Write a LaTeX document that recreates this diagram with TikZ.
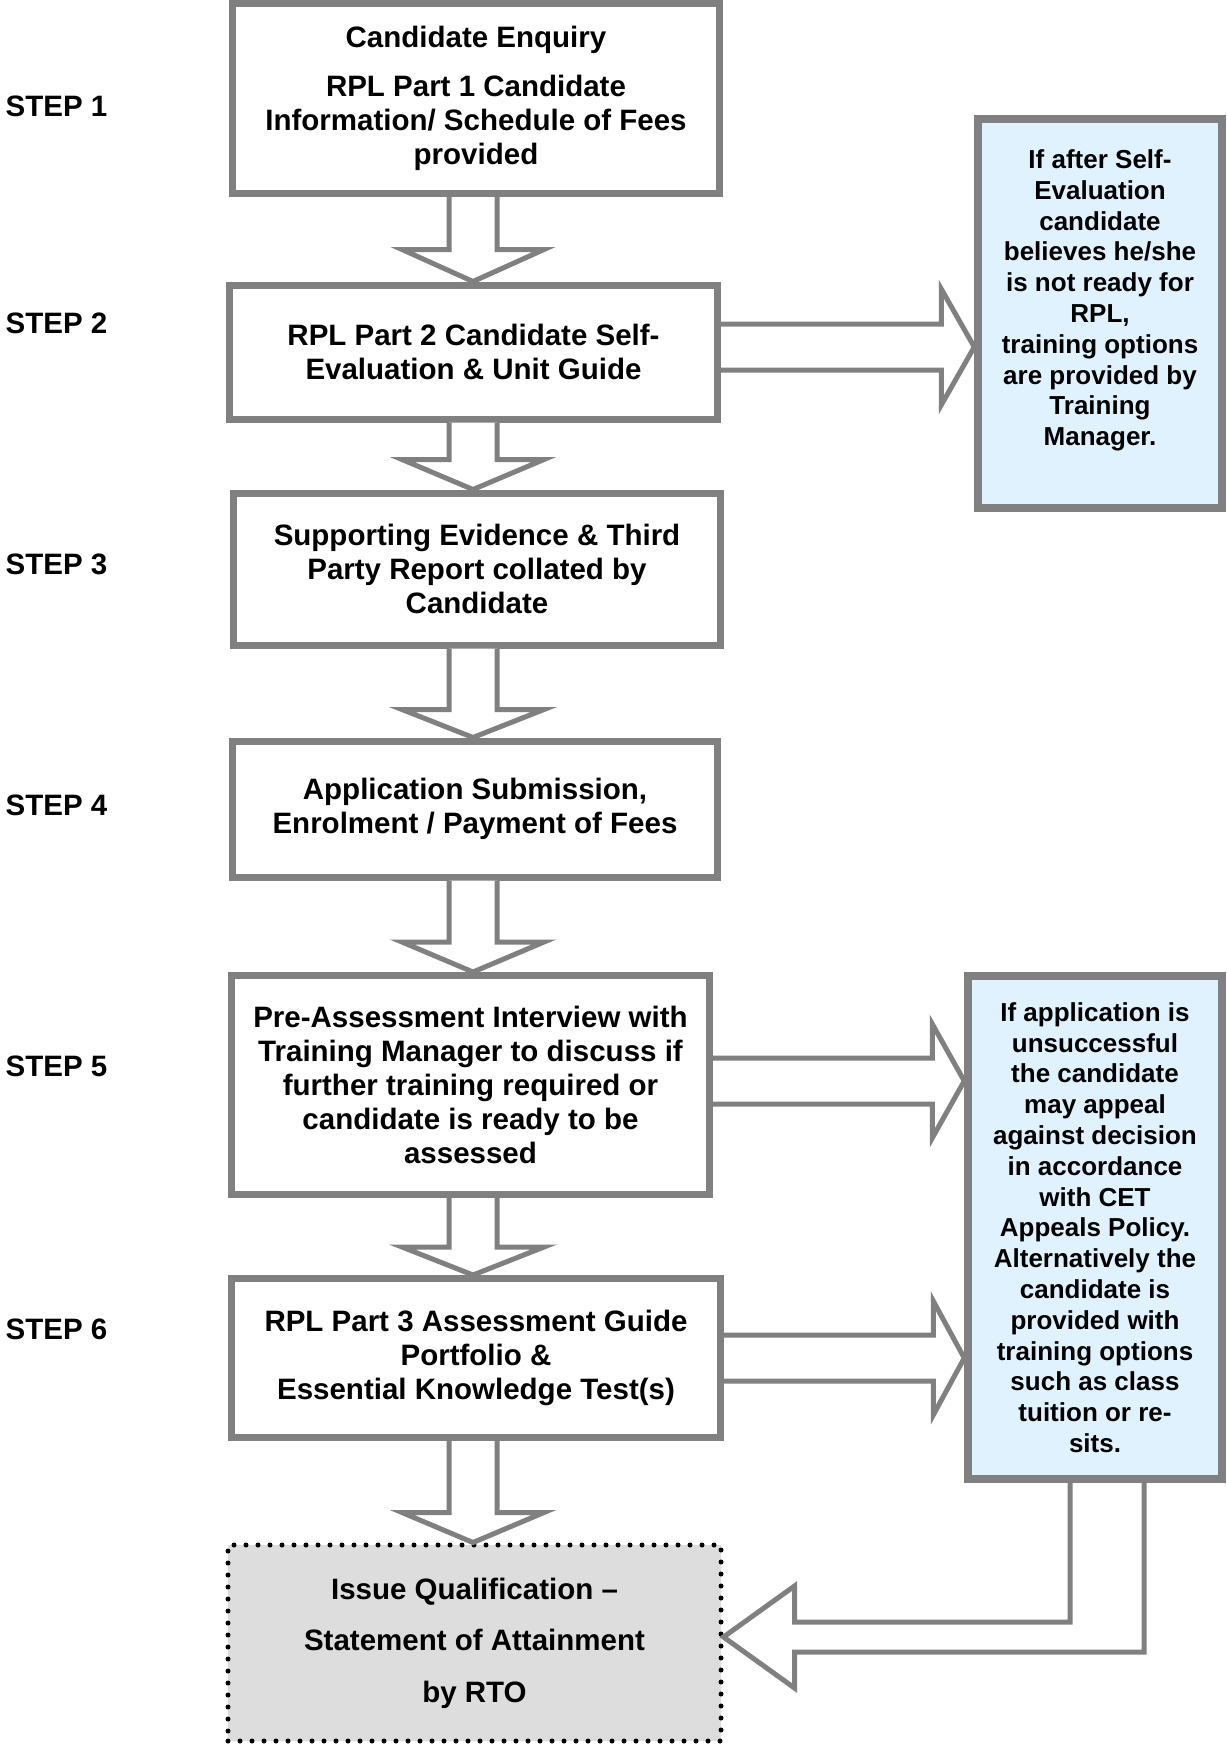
\documentclass[tikz,border=0pt]{standalone}
\usepackage{fontspec}
\setmainfont{Liberation Sans}
\usetikzlibrary{calc}
\definecolor{boxgray}{RGB}{128,128,128}
\definecolor{notefill}{RGB}{225,242,255}
\definecolor{issuefill}{RGB}{221,221,221}

\begin{document}
\begin{tikzpicture}[x=1pt,y=1pt,yscale=-1,xscale=1,
  stepbox/.style={draw=boxgray,line width=7pt,fill=white,inner sep=0pt,align=center,font=\fontsize{29.5}{34}\selectfont\bfseries},
  notebox/.style={draw=boxgray,line width=8pt,fill=notefill,inner sep=0pt,align=center,font=\fontsize{26}{30.8}\selectfont\bfseries},
  issuebox/.style={draw=black,line width=5pt,dash pattern=on 0pt off 12pt,line cap=round,fill=issuefill,inner sep=0pt,align=center,font=\fontsize{29.5}{51.5}\selectfont\bfseries},
  steplabel/.style={anchor=west,inner sep=0pt,font=\fontsize{29.5}{34}\selectfont\bfseries},
  blockarrow/.style={draw=boxgray,line width=5pt,fill=white,line join=miter}]
%set diagram size to 1226 x 1745
\useasboundingbox (0,0) rectangle (1226,1745);
\coordinate (col) at (473,0);

%Shape: Rectangle [b1]
\draw (476,98.5) node [stepbox,minimum width=487pt,minimum height=190pt] (b1) {Candidate Enquiry\\[15pt]RPL Part 1 Candidate\\Information/ Schedule of Fees\\provided};
%Shape: Rectangle [b2]
\draw (473.5,352) node [stepbox,minimum width=488pt,minimum height=134pt] (b2) {RPL Part 2 Candidate Self-\\Evaluation \& Unit Guide};
%Shape: Rectangle [b3]
\draw (477,569) node [stepbox,minimum width=487pt,minimum height=152pt] (b3) {Supporting Evidence \& Third\\Party Report collated by\\Candidate};
%Shape: Rectangle [b4]
\draw (475,809) node [stepbox,minimum width=485pt,minimum height=136pt] (b4) {Application Submission,\\Enrolment / Payment of Fees};
%Shape: Rectangle [b5]
\draw (470.5,1085) node [stepbox,minimum width=478pt,minimum height=219pt] (b5) {Pre-Assessment Interview with\\Training Manager to discuss if\\further training required or\\candidate is ready to be\\assessed};
%Shape: Rectangle [b6]
\draw (476,1358) node [stepbox,minimum width=489pt,minimum height=159pt] (b6) {RPL Part 3 Assessment Guide\\Portfolio \&\\Essential Knowledge Test(s)};
%Shape: Rectangle [b7]
\draw (474.5,1643) node [issuebox,minimum width=493pt,minimum height=196pt] (b7) {Issue Qualification –\\Statement of Attainment\\by RTO};
%Shape: Rectangle [s1]
\draw (1100,313) node [notebox,minimum width=243.5pt,minimum height=389pt] (s1) {If after Self-\\Evaluation\\candidate\\believes he/she\\is not ready for\\RPL,\\training options\\are provided by\\Training\\Manager.\\ \mbox{}};
%Shape: Rectangle [s2]
\draw (1095,1227.5) node [notebox,minimum width=253.5pt,minimum height=503pt] (s2) {If application is\\unsuccessful\\the candidate\\may appeal\\against decision\\in accordance\\with CET\\Appeals Policy.\\Alternatively the\\candidate is\\provided with\\training options\\such as class\\tuition or re-\\sits.};

% Text Node
\draw (5.5,106) node [steplabel] (st1) {STEP 1};
% Text Node
\draw (5.5,323) node [steplabel] (st2) {STEP 2};
% Text Node
\draw (5.5,564) node [steplabel] (st3) {STEP 3};
% Text Node
\draw (5.5,805) node [steplabel] (st4) {STEP 4};
% Text Node
\draw (5.5,1066) node [steplabel] (st5) {STEP 5};
% Text Node
\draw (5.5,1329) node [steplabel] (st6) {STEP 6};

%Down Arrow [b1 to b2]
\coordinate (d1) at (b1.south -| col);
\coordinate (d1tip) at (b2.north -| col);
\draw [blockarrow] ($(d1)+(-24,0)$) -- ($(d1tip)+(-24,-32)$) -- ($(d1tip)+(-71,-32)$) -- (d1tip) -- ($(d1tip)+(71,-32)$) -- ($(d1tip)+(24,-32)$) -- ($(d1)+(24,0)$) ;
%Down Arrow [b2 to b3]
\coordinate (d2) at (b2.south -| col);
\coordinate (d2tip) at (b3.north -| col);
\draw [blockarrow] ($(d2)+(-24,0)$) -- ($(d2tip)+(-24,-30)$) -- ($(d2tip)+(-71,-30)$) -- (d2tip) -- ($(d2tip)+(71,-30)$) -- ($(d2tip)+(24,-30)$) -- ($(d2)+(24,0)$) ;
%Down Arrow [b3 to b4]
\coordinate (d3) at (b3.south -| col);
\coordinate (d3tip) at (b4.north -| col);
\draw [blockarrow] ($(d3)+(-24,0)$) -- ($(d3tip)+(-24,-28)$) -- ($(d3tip)+(-71,-28)$) -- (d3tip) -- ($(d3tip)+(71,-28)$) -- ($(d3tip)+(24,-28)$) -- ($(d3)+(24,0)$) ;
%Down Arrow [b4 to b5]
\coordinate (d4) at (b4.south -| col);
\coordinate (d4tip) at (b5.north -| col);
\draw [blockarrow] ($(d4)+(-24,0)$) -- ($(d4tip)+(-24,-30)$) -- ($(d4tip)+(-71,-30)$) -- (d4tip) -- ($(d4tip)+(71,-30)$) -- ($(d4tip)+(24,-30)$) -- ($(d4)+(24,0)$) ;
%Down Arrow [b5 to b6]
\coordinate (d5) at (b5.south -| col);
\coordinate (d5tip) at (b6.north -| col);
\draw [blockarrow] ($(d5)+(-24,0)$) -- ($(d5tip)+(-24,-28)$) -- ($(d5tip)+(-71,-28)$) -- (d5tip) -- ($(d5tip)+(71,-28)$) -- ($(d5tip)+(24,-28)$) -- ($(d5)+(24,0)$) ;
%Down Arrow [b6 to b7]
\coordinate (d6) at (b6.south -| col);
\coordinate (d6tip) at (b7.north -| col);
\draw [blockarrow] ($(d6)+(-24,0)$) -- ($(d6tip)+(-24,-30)$) -- ($(d6tip)+(-71,-30)$) -- (d6tip) -- ($(d6tip)+(71,-30)$) -- ($(d6tip)+(24,-30)$) -- ($(d6)+(24,0)$) ;

%Right Arrow [b2 to s1]
\coordinate (r1) at ($(b2.east)+(0,-5)$);
\coordinate (r1tip) at (r1 -| s1.west);
\draw [blockarrow] ($(r1)+(0,-23)$) -- ($(r1tip)+(-33,-23)$) -- ($(r1tip)+(-33,-58)$) -- (r1tip) -- ($(r1tip)+(-33,58)$) -- ($(r1tip)+(-33,23)$) -- ($(r1)+(0,23)$) ;
%Right Arrow [b5 to s2]
\coordinate (r2) at ($(b5.east)+(0,-4)$);
\coordinate (r2tip) at (r2 -| s2.west);
\draw [blockarrow] ($(r2)+(0,-23)$) -- ($(r2tip)+(-32,-23)$) -- ($(r2tip)+(-32,-57)$) -- (r2tip) -- ($(r2tip)+(-32,57)$) -- ($(r2tip)+(-32,23)$) -- ($(r2)+(0,23)$) ;
%Right Arrow [b6 to s2]
\coordinate (r3) at (b6.east);
\coordinate (r3tip) at (r3 -| s2.west);
\draw [blockarrow] ($(r3)+(0,-23)$) -- ($(r3tip)+(-31,-23)$) -- ($(r3tip)+(-31,-57)$) -- (r3tip) -- ($(r3tip)+(-31,57)$) -- ($(r3tip)+(-31,23)$) -- ($(r3)+(0,23)$) ;

%Bent Arrow [s2 to b7]
\coordinate (e1tip) at ($(b7.east)+(0,-6)$);
\draw [blockarrow] ($(s2.south)+(-25,0)$) |- ($(e1tip)+(71,-15)$) -- ($(e1tip)+(71,-51)$) -- (e1tip) -- ($(e1tip)+(71,51)$) -- ($(e1tip)+(71,15)$) -| ($(s2.south)+(49,0)$) ;

\end{tikzpicture}
\end{document}
